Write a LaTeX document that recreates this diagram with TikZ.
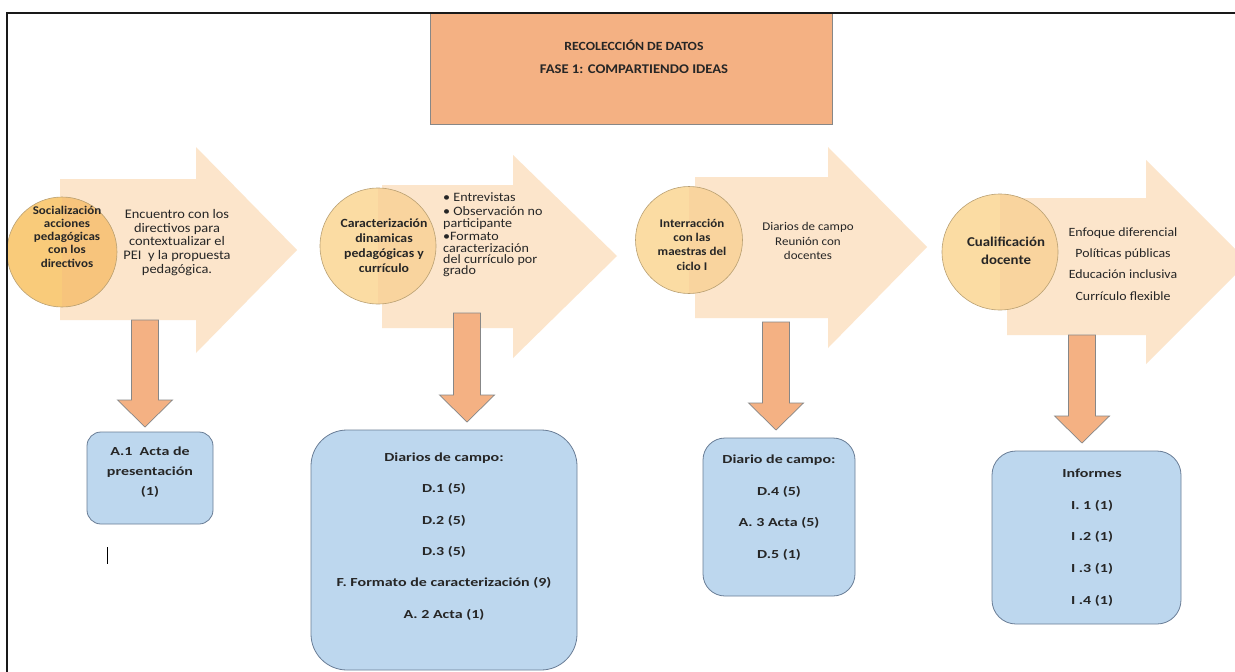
\documentclass[tikz,border=0pt]{standalone}
\usepackage{fontspec}
\setmainfont{Carlito}
\newfontfamily\fa{Carlito}[FakeStretch=1.1]
\newfontfamily\fb{Carlito}[FakeStretch=1.3]

\definecolor{peach}{RGB}{252,229,203}
\definecolor{salmon}{RGB}{244,177,131}
\definecolor{salmonedge}{RGB}{135,135,135}
\definecolor{goldL}{RGB}{249,203,122}
\definecolor{goldR}{RGB}{247,196,124}
\definecolor{paleL}{RGB}{251,220,163}
\definecolor{paleR}{RGB}{249,212,158}
\definecolor{discedge}{RGB}{185,160,115}
\definecolor{boxblue}{RGB}{189,215,238}
\definecolor{boxedge}{RGB}{105,125,150}
\definecolor{ink}{RGB}{38,38,38}

\begin{document}
\begin{tikzpicture}[x=1pt,y=-1pt,
  bigarrow/.style={fill=peach},
  downarrow/.style={fill=salmon,draw=salmonedge,line width=0.7pt},
  titlebox/.style={rectangle,fill=salmon,draw=salmonedge,line width=0.7pt,inner sep=0},
  discbase/.style={circle,inner sep=0,draw=discedge,line width=0.6pt},
  discgold/.style={discbase,fill=goldL,path picture={\fill[goldR] (path picture bounding box.north) rectangle (path picture bounding box.south east);}},
  discpale/.style={discbase,fill=paleL,path picture={\fill[paleR] (path picture bounding box.north) rectangle (path picture bounding box.south east);}},
  resultbox/.style={rectangle,fill=boxblue,draw=boxedge,line width=0.8pt,inner sep=0},
  txt/.style={text=ink,inner sep=0,align=center},
  pics/dnarrow/.style={code={
    \path[downarrow] (-13.5,0) -- (13.5,0) -- (13.5,#1-27) -- (27.5,#1-27)
      -- (0,#1) -- (-27.5,#1-27) -- (-13.5,#1-27) -- cycle;}}
]
\useasboundingbox (0,0) rectangle (1235,672);
\fill[white] (0,0) rectangle (1235,672);

% heading
\node[titlebox,minimum width=402,minimum height=111] (title) at (631,68.5) {};
\node[txt,font={\fa\bfseries\fontsize{12.5}{14}\selectfont}] (head1) at (634,45) {RECOLECCIÓN DE DATOS};
\node[txt,font={\fa\bfseries\fontsize{13.3}{15}\selectfont}] (head2) at (634,69) {FASE 1: COMPARTIENDO IDEAS};

% block arrows of the four stages
\path[bigarrow] (60,179) -- (196,179) -- (196,147) -- (297,250) -- (196,353) -- (196,320) -- (60,320) -- cycle;
\path[bigarrow] (382,185) -- (513,185) -- (513,155) -- (617,256) -- (513,358) -- (513,328) -- (382,328) -- cycle;
\path[bigarrow] (695,177) -- (828,177) -- (828,147) -- (927,247) -- (828,348) -- (828,318) -- (695,318) -- cycle;
\path[bigarrow] (1007,198) -- (1146,198) -- (1146,160) -- (1248,262) -- (1146,364) -- (1146,335) -- (1007,335) -- cycle;

% stage discs
\node[discgold,minimum size=110] (c1) at (62,252) {};
\node[discpale,minimum size=116] (c2) at (378,246) {};
\node[discpale,minimum size=107] (c3) at (689,240) {};
\node[discpale,minimum size=116] (c4) at (1000,252) {};

\node[txt,font={\fa\bfseries\fontsize{11.8}{13.3}\selectfont}] (c1t) at (67,236.5)
  {Socialización\\acciones\\pedagógicas\\con los\\directivos};
\node[txt,font={\fa\bfseries\fontsize{12.5}{15}\selectfont}] (c2t) at (384,245.5)
  {Caracterización\\dinamicas\\pedagógicas y\\currículo};
\node[txt,font={\fa\bfseries\fontsize{11.8}{14.3}\selectfont}] (c3t) at (692,244.5)
  {Interracción\\con las\\maestras del\\ciclo I};
\node[txt,font={\fa\bfseries\fontsize{13.5}{18}\selectfont}] (c4t) at (1006,251)
  {Cualificación\\docente};

% stage descriptions
\node[txt,font={\fa\fontsize{13.1}{13.75}\selectfont}] (a1t) at (177,242.5)
  {Encuentro con los\\directivos para\\contextualizar el\\PEI\ \ y la propuesta\\pedagógica.};
\node[txt,align=left,anchor=west,font={\fa\fontsize{12.8}{11.3}\selectfont}] (a2t) at (443,235)
  {• Entrevistas\\[2.5pt]• Observación no\\participante\\[2.5pt]•Formato\\caracterización\\del currículo por\\grado};
\node[txt,font={\fa\fontsize{11.8}{14.5}\selectfont}] (a3t) at (808,241)
  {Diarios de campo\\Reunión con\\docentes};
\node[txt,font={\fa\fontsize{12.6}{21.3}\selectfont}] (a4t) at (1123,264)
  {Enfoque diferencial\\Políticas públicas\\Educación inclusiva\\Currículo flexible};

% result boxes
\node[resultbox,rounded corners=14,minimum width=126,minimum height=92] (b1) at (150,478) {};
\node[resultbox,rounded corners=36,minimum width=266,minimum height=240] (b2) at (444,550) {};
\node[resultbox,rounded corners=22,minimum width=152,minimum height=158] (b3) at (779,517) {};
\node[resultbox,rounded corners=24,minimum width=189,minimum height=173] (b4) at (1086.5,537.5) {};

\node[txt,font={\fb\bfseries\fontsize{12.3}{20}\selectfont}] (b1t) at (150,472)
  {A.1\ \ Acta de\\presentación\\(1)};
\node[txt,font={\fb\bfseries\fontsize{12.3}{31.4}\selectfont}] (b2t) at (444,536.5)
  {Diarios de campo:\\D.1 (5)\\D.2 (5)\\D.3 (5)\\F. Formato de caracterización (9)\\A. 2 Acta (1)};
\node[txt,font={\fb\bfseries\fontsize{12.3}{31.7}\selectfont}] (b3t) at (779,507.5)
  {Diario de campo:\\D.4 (5)\\A. 3 Acta (5)\\D.5 (1)};
\node[txt,font={\fb\bfseries\fontsize{12.3}{31.75}\selectfont}] (b4t) at (1092,537.5)
  {Informes\\I. 1 (1)\\I .2 (1)\\I .3 (1)\\I .4 (1)};

% arrows from each stage down to its results
\coordinate (s1) at (145,320);
\coordinate (s2) at (467,313);
\coordinate (s3) at (776,322);
\coordinate (s4) at (1082,335);
\pic at (s1) {dnarrow=107};
\pic at (s2) {dnarrow=109};
\pic at (s3) {dnarrow=108};
\pic at (s4) {dnarrow=108};

% text cursor mark
\draw[black,line width=1pt] (107,547) -- (107,564);

% page frame
\draw[black!90,line width=2.4pt] (7,672) -- (7,13) -- (1235,13);
\end{tikzpicture}
\end{document}
